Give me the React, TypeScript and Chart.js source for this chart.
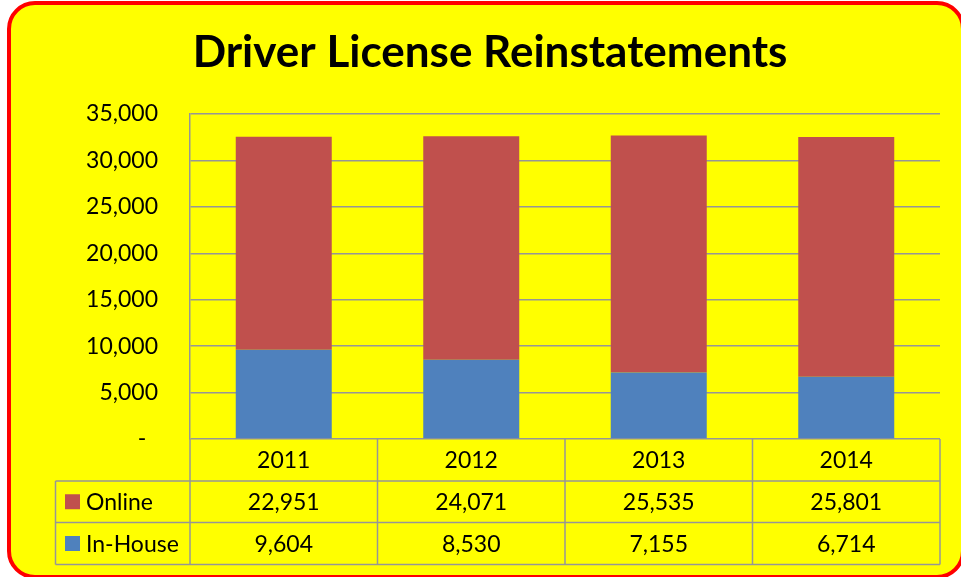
import React, { useEffect, useRef } from "react";
import { Chart, registerables } from "chart.js";
Chart.register(...registerables);

const title = "Driver License Reinstatements";
const years = ["2011", "2012", "2013", "2014"];
const onlineValues = [22951, 24071, 25535, 25801];
const inHouseValues = [9604, 8530, 7155, 6714];
const seriesNames = ["Online", "In-House"];
const yMax = 35000;
const yStep = 5000;

const RED = "#C0504D";
const BLUE = "#4F81BD";
const GRID = "#969696";
const FONT = "Lato, 'Open Sans', sans-serif";
const fmt = (v: number) => v.toLocaleString("en-US");

const tablePlugin = {
  id: "dataTable",
  afterDraw(chart: any) {
    const ctx = chart.ctx;
    const xs = chart.scales.x;
    const area = chart.chartArea;
    const n = years.length;
    const cw = (area.right - area.left) / n;
    const top = area.bottom;
    const r1 = top + 42;
    const r2 = r1 + 41.5;
    const r3 = r2 + 42;
    const tableLeft = 55.5;
    ctx.save();
    // title
    ctx.fillStyle = "#000";
    ctx.font = `bold 44px ${FONT}`;
    ctx.textAlign = "center";
    ctx.textBaseline = "alphabetic";
    ctx.fillText(title, 490, 67);

    ctx.strokeStyle = GRID;
    ctx.lineWidth = 1.5;
    ctx.beginPath();
    for (let i = 0; i <= n; i++) {
      const x = area.left + cw * i;
      ctx.moveTo(x, top);
      ctx.lineTo(x, r3);
    }
    ctx.moveTo(tableLeft, r1);
    ctx.lineTo(tableLeft, r3);
    [r1, r2, r3].forEach((y) => {
      ctx.moveTo(tableLeft, y);
      ctx.lineTo(area.right, y);
    });
    ctx.stroke();

    ctx.font = `23px ${FONT}`;
    ctx.fillStyle = "#000";
    ctx.textAlign = "center";
    ctx.textBaseline = "middle";
    const rows = [
      { y: (top + r1) / 2, vals: years },
      { y: (r1 + r2) / 2, vals: onlineValues.map(fmt) },
      { y: (r2 + r3) / 2, vals: inHouseValues.map(fmt) },
    ];
    rows.forEach((r) => {
      r.vals.forEach((v, i) => {
        ctx.fillText(v, xs.getPixelForValue(i), r.y + 1);
      });
    });
    // legend keys
    const keys = [
      { name: seriesNames[0], color: RED, y: (r1 + r2) / 2 },
      { name: seriesNames[1], color: BLUE, y: (r2 + r3) / 2 },
    ];
    keys.forEach((k) => {
      ctx.fillStyle = k.color;
      ctx.fillRect(65, k.y - 7.5, 15, 15);
      ctx.fillStyle = "#000";
      ctx.textAlign = "left";
      ctx.fillText(k.name, 86, k.y + 1);
    });
    ctx.restore();
  },
};

export default function App() {
  const ref = useRef<HTMLCanvasElement>(null);
  useEffect(() => {
    const chart = new Chart(ref.current!, {
      type: "bar",
      data: {
        labels: years,
        datasets: [
          {
            label: seriesNames[1],
            data: inHouseValues,
            backgroundColor: BLUE,
            categoryPercentage: 1,
            barPercentage: 0.512,
          },
          {
            label: seriesNames[0],
            data: onlineValues,
            backgroundColor: RED,
            categoryPercentage: 1,
            barPercentage: 0.512,
          },
        ],
      },
      options: {
        animation: false,
        responsive: false,
        layout: { padding: { left: 0, right: 21, top: 114, bottom: 138 } },
        plugins: { legend: { display: false }, title: { display: false }, tooltip: { enabled: false } },
        scales: {
          x: { stacked: true, display: false },
          y: {
            stacked: true,
            min: 0,
            max: yMax,
            ticks: {
              stepSize: yStep,
              padding: 32,
              color: "#000",
              font: { size: 23, family: FONT },
              callback: (v: any) => (Number(v) === 0 ? "-  " : fmt(Number(v))),
            },
            grid: { color: GRID, lineWidth: 1.5, drawTicks: false },
            border: { color: GRID, width: 1.5 },
            afterFit: (s: any) => {
              s.width = 190;
            },
          },
        },
      },
      plugins: [tablePlugin],
    });
    return () => chart.destroy();
  }, []);
  return (
    <div style={{ position: "fixed", left: 0, top: 0, width: 961, height: 577, overflow: "hidden" }}>
      <div
        style={{
          position: "absolute",
          left: 7,
          top: 1,
          width: 958,
          height: 578,
          boxSizing: "border-box",
          border: "4px solid #FF0000",
          borderRadius: 28,
          background: "#FFFF00",
        }}
      />
      <canvas ref={ref} width={961} height={577} style={{ position: "absolute", left: 0, top: 0, width: 961, height: 577 }} />
    </div>
  );
}
